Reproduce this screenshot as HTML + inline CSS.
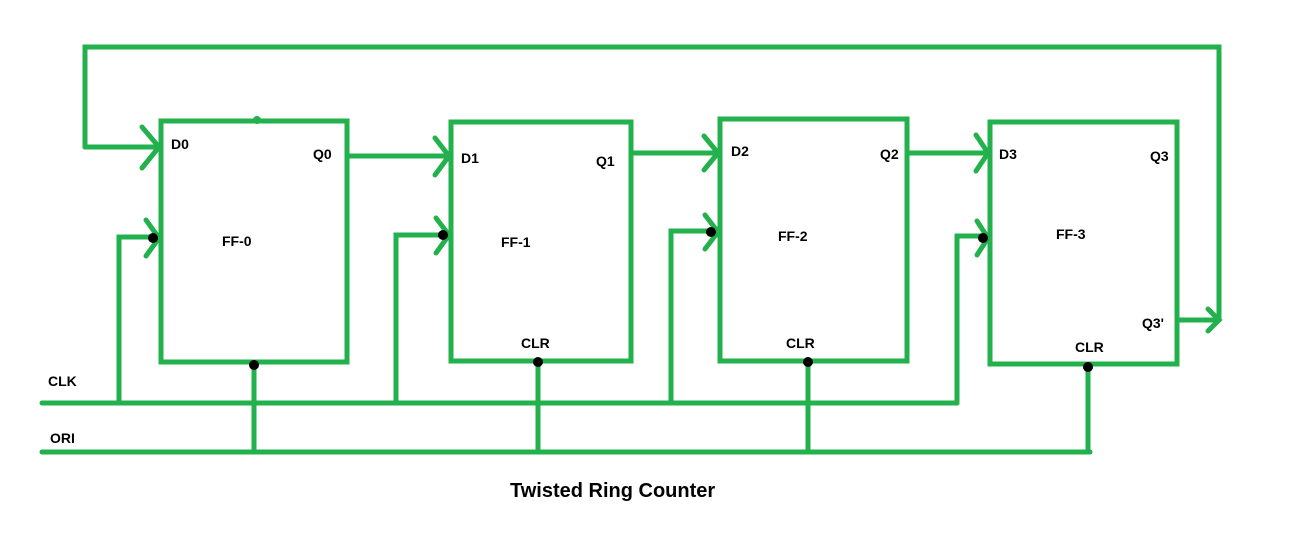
<!DOCTYPE html>
<html><head><style>
body{margin:0;background:#fff;}
svg text{font-family:"Liberation Sans",sans-serif;font-weight:bold;font-size:14px;fill:#000;}
</style></head><body>
<svg width="1289" height="534" viewBox="0 0 1289 534" xmlns="http://www.w3.org/2000/svg">
<g stroke="#22b14c" stroke-width="5" fill="none" stroke-linecap="round" stroke-linejoin="miter">
<rect x="161" y="121" width="186" height="241"/>
<rect x="451" y="122" width="180" height="239"/>
<rect x="720" y="119" width="187" height="242"/>
<rect x="990" y="122" width="187" height="242"/>
<polyline points="85,147 85,47 1219,47 1219,320"/>
<line x1="85" y1="147" x2="159" y2="147"/>
<polyline points="142,127 159,147 142,168"/>
<line x1="1177" y1="320" x2="1219" y2="320"/>
<polyline points="1208,309 1219,320 1208,331"/>
<line x1="347" y1="156" x2="449" y2="156"/>
<polyline points="435,138 449,156 435,175"/>
<line x1="631" y1="153" x2="718" y2="153"/>
<polyline points="704,136 718,153 704,170"/>
<line x1="907" y1="153" x2="988" y2="153"/>
<polyline points="976,135 988,153 976,171"/>
<line x1="42" y1="403" x2="957" y2="403"/>
<polyline points="119,403 119,237 153,237"/>
<polyline points="146,220 159,238 146,256"/>
<polyline points="396,403 396,235 443,235"/>
<polyline points="436,218 449,235 436,253"/>
<polyline points="671,403 671,231 711,231"/>
<polyline points="705,215 718,232 705,249"/>
<polyline points="957,403 957,236 983,236"/>
<polyline points="977,221 988,238 977,255"/>
<line x1="42" y1="452" x2="1090" y2="452"/>
<line x1="254" y1="364" x2="254" y2="452"/>
<line x1="538" y1="361" x2="538" y2="452"/>
<line x1="808" y1="361" x2="808" y2="452"/>
<line x1="1088" y1="366" x2="1088" y2="452"/>
</g>
<g fill="#000">
<circle cx="153" cy="238" r="5"/>
<circle cx="443" cy="235" r="5"/>
<circle cx="711" cy="232" r="5"/>
<circle cx="983" cy="238" r="5"/>
<circle cx="254" cy="365" r="5"/>
<circle cx="538" cy="362" r="5"/>
<circle cx="808" cy="362" r="5"/>
<circle cx="1088" cy="367" r="5"/>
</g>
<circle cx="257" cy="120" r="4" fill="#22b14c"/>
<text x="171" y="149">D0</text>
<text x="313" y="159">Q0</text>
<text x="222" y="246">FF-0</text>
<text x="461" y="163">D1</text>
<text x="596" y="166">Q1</text>
<text x="501" y="247">FF-1</text>
<text x="521" y="348">CLR</text>
<text x="731" y="156">D2</text>
<text x="880" y="159">Q2</text>
<text x="778" y="241">FF-2</text>
<text x="786" y="348">CLR</text>
<text x="999" y="159">D3</text>
<text x="1150" y="161">Q3</text>
<text x="1056" y="239">FF-3</text>
<text x="1142" y="328">Q3'</text>
<text x="1075" y="352">CLR</text>
<text x="48" y="386">CLK</text>
<text x="50" y="443">ORI</text>
<text x="510" y="497" style="font-size:20px">Twisted Ring Counter</text>
</svg>
</body></html>
